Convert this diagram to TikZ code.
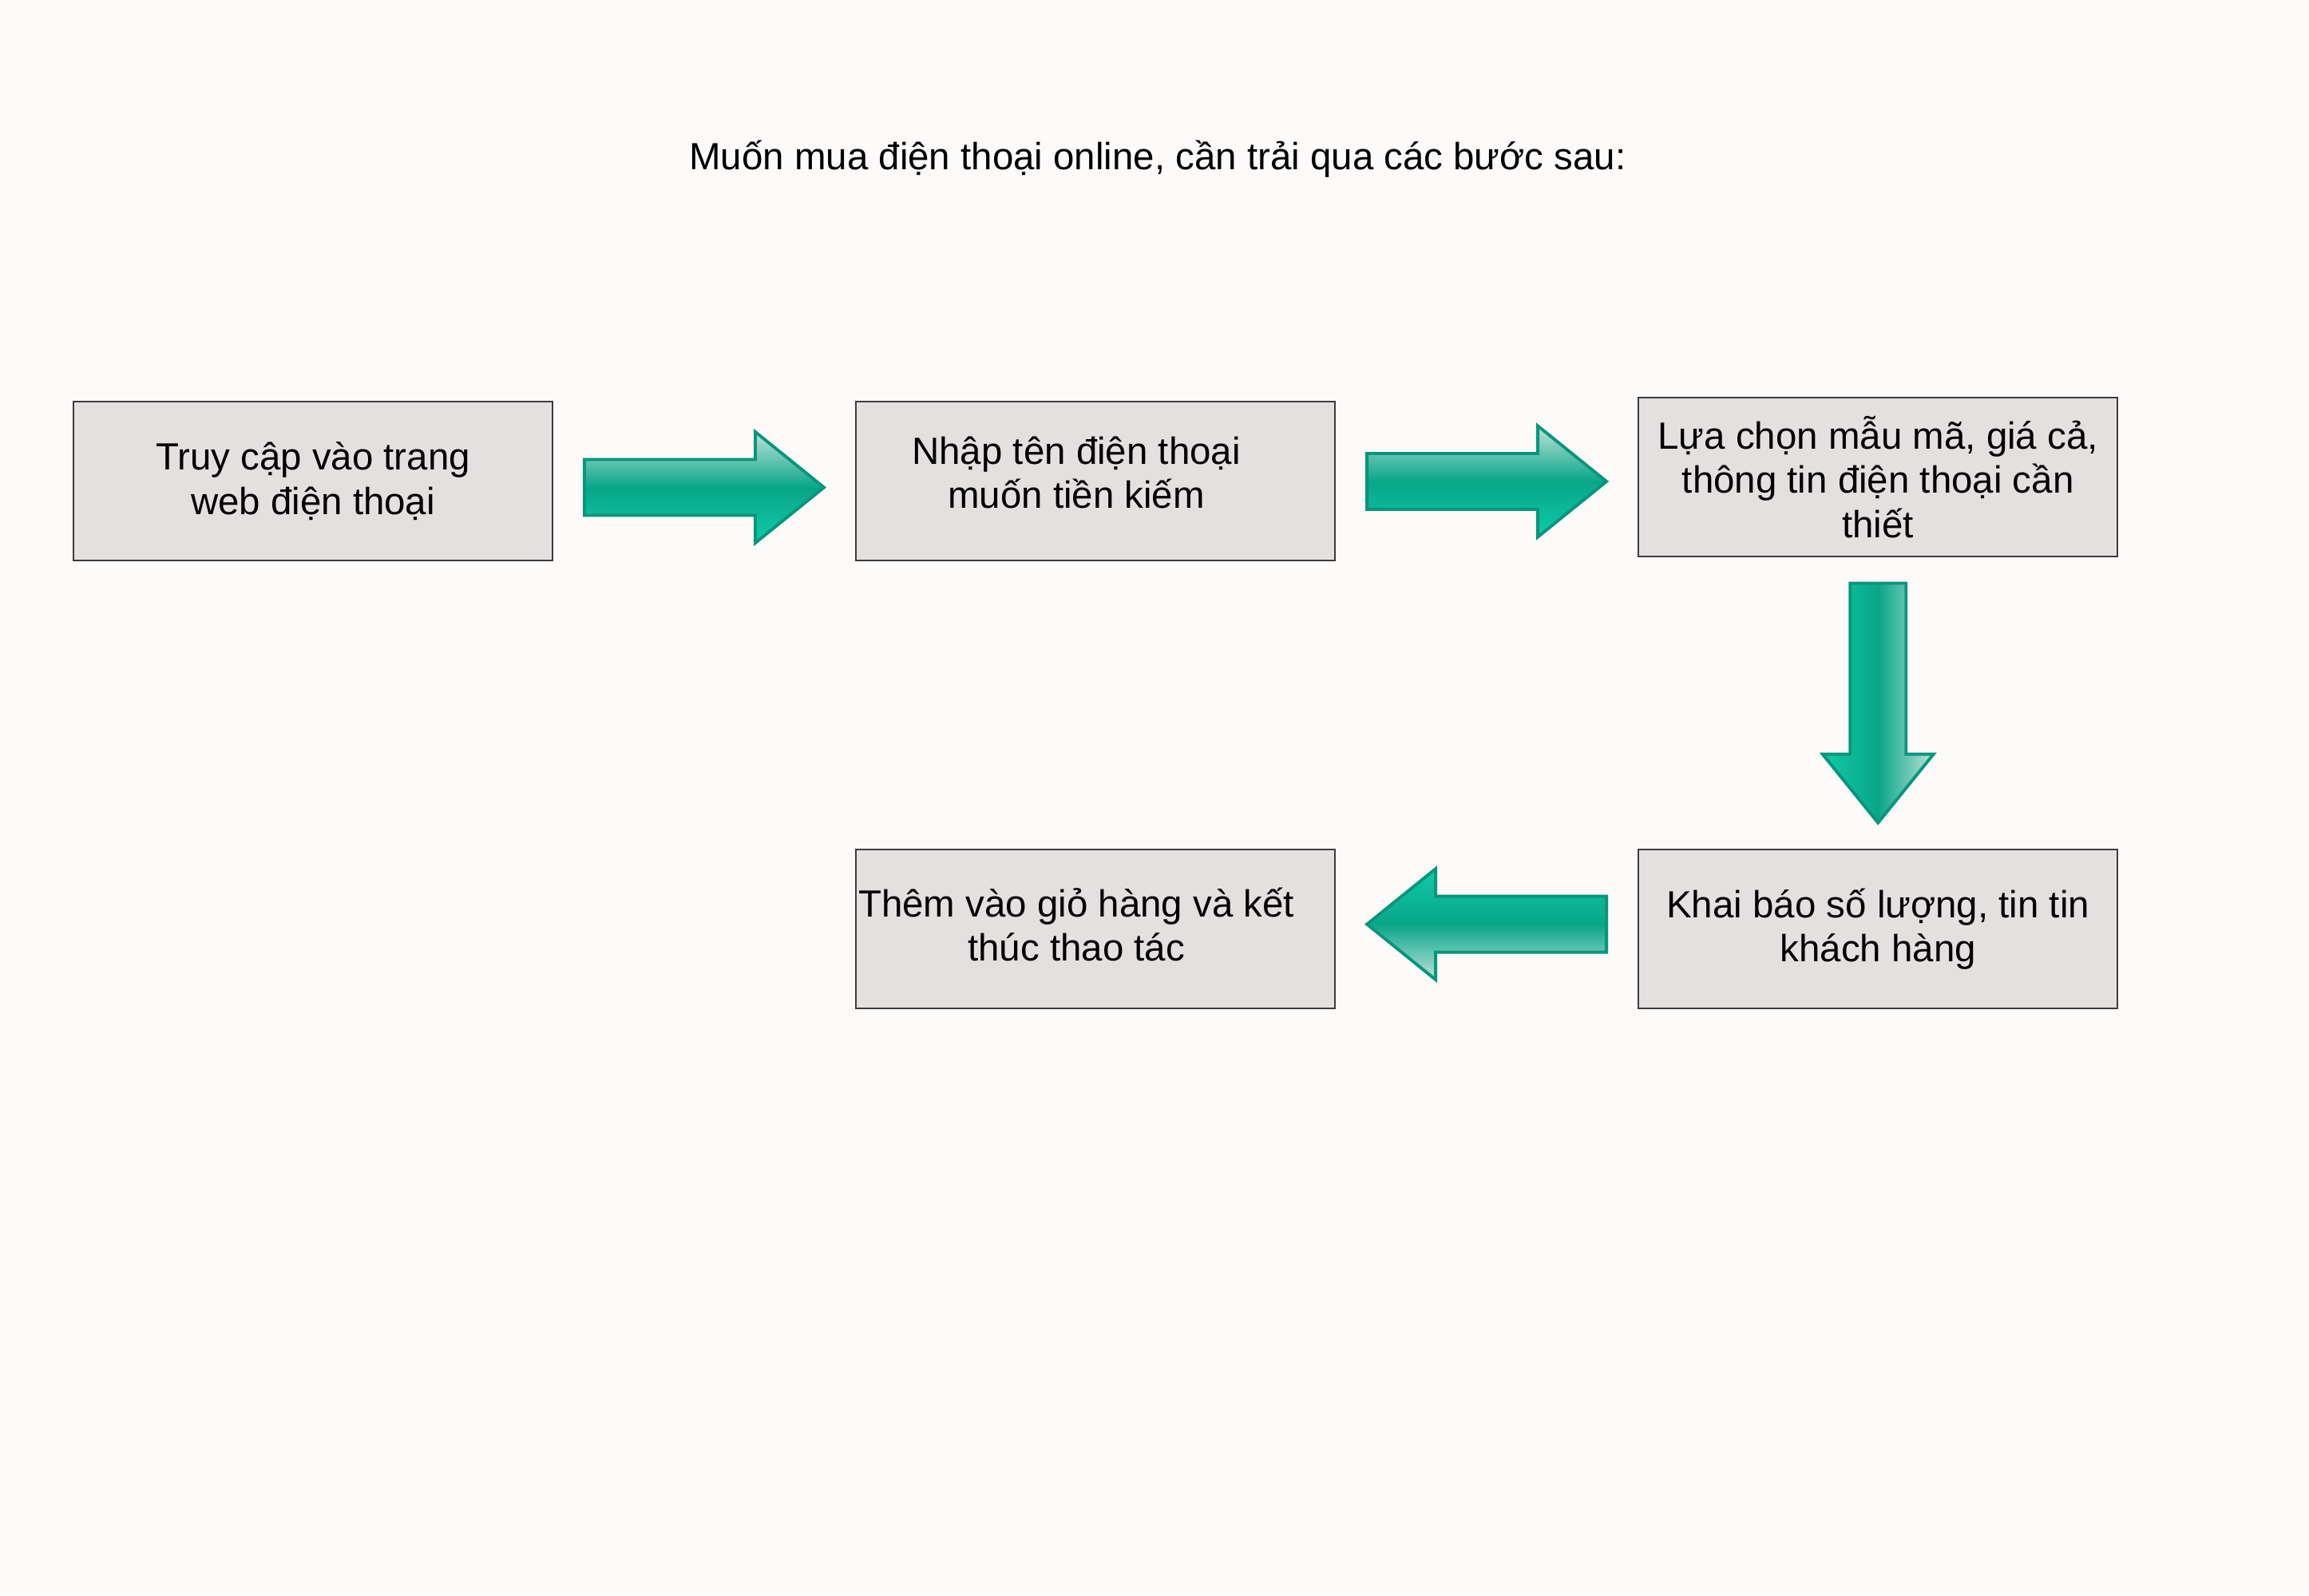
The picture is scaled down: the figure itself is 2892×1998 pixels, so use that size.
\documentclass[tikz,border=0pt]{standalone}
\usepackage{fontspec}
\setmainfont{Liberation Sans}
\usetikzlibrary{positioning,calc}

\definecolor{nen}{RGB}{253,250,250}
\definecolor{nenhop}{RGB}{228,224,224}
\definecolor{vienhop}{RGB}{60,60,60}
\definecolor{nhat}{RGB}{190,226,217}
\definecolor{dam}{RGB}{8,166,137}
\definecolor{sang}{RGB}{16,202,168}
\definecolor{vienmt}{RGB}{8,150,124}

\tikzset{
  hop/.style={draw=vienhop, fill=nenhop, line width=0.6pt, inner sep=0pt,
    minimum width=6cm, minimum height=1.99cm, align=center,
    font=\fontsize{13.5}{15.8}\selectfont},
  muiten/.style={draw=vienmt, line width=1.1pt, line join=miter}
}

\begin{document}
\begin{tikzpicture}[x=0.1mm,y=-0.1mm]
                  \path[fill=nen,use as bounding box] (0,0) rectangle (2892,1998);

                  % Tieu de
                  \node (tieude) [anchor=base,font=\fontsize{13.5}{16}\selectfont] at (1450,212)
                        {Muốn mua điện thoại online, cần trải qua các bước sau:};

                  % Cac buoc
                  \node (b1) [hop] at (392,602.5) {Truy cập vào trang\\web điện thoại};
                  \node (b2) [hop,right=3.78cm of b1,text depth=2.2mm] {Nhập tên điện thoại\hspace*{4.8mm}\\muốn tiền kiếm\hspace*{4.8mm}};
                  \node (b3) [hop,right=3.78cm of b2,yshift=0.5mm] {Lựa chọn mẫu mã, giá cả,\\thông tin điện thoại cần\\thiết};
                  \node (b4) [hop,below=3.65cm of b3] {Khai báo số lượng, tin tin\\khách hàng};
                  \node (b5) [hop,left=3.78cm of b4,text depth=1.2mm] {Thêm vào giỏ hàng và kết\hspace*{4.8mm}\\thúc thao tác\hspace*{4.8mm}};

                  % Mui ten
                  \coordinate (a1) at ($(b1.east)!0.5!(b2.west)+(0,8)$);
                  \coordinate (a2) at ($(b2.east)!0.5!(b3.west)+(0,3)$);
                  \coordinate (a3) at ($(b3.south)!0.5!(b4.north)$);
                  \coordinate (a4) at ($(b4.west)!0.5!(b5.east)+(0,-6)$);

                  \begin{scope}[shift={(a1)}]
                      \path[muiten,top color=nhat,bottom color=sang,middle color=dam]
                        (-150,-35) -- (64,-35) -- (64,-69.5) -- (150,0) -- (64,69.5) -- (64,35) -- (-150,35) -- cycle;
                  \end{scope}
                  \begin{scope}[shift={(a2)}]
                      \path[muiten,top color=nhat,bottom color=sang,middle color=dam]
                        (-150,-35) -- (64,-35) -- (64,-69.5) -- (150,0) -- (64,69.5) -- (64,35) -- (-150,35) -- cycle;
                  \end{scope}
                  \begin{scope}[shift={(a3)}]
                      \path[muiten,left color=sang,right color=nhat,middle color=dam]
                        (-35,-150) -- (35,-150) -- (35,64) -- (69.5,64) -- (0,150) -- (-69.5,64) -- (-35,64) -- (-35,-150) -- cycle;
                  \end{scope}
                  \begin{scope}[shift={(a4)}]
                      \path[muiten,top color=sang,bottom color=nhat,middle color=dam]
                        (150,-35) -- (-64,-35) -- (-64,-69.5) -- (-150,0) -- (-64,69.5) -- (-64,35) -- (150,35) -- cycle;
                  \end{scope}
\end{tikzpicture}
\end{document}
